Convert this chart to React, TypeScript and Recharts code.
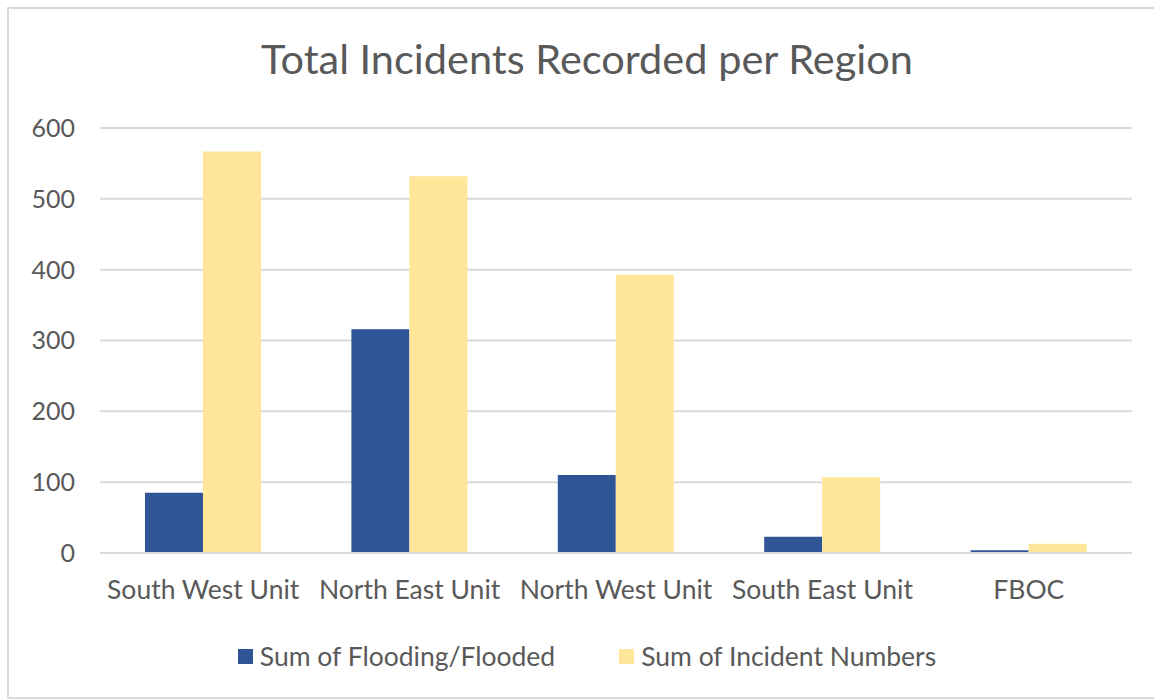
import React from "react";
import { BarChart, Bar, XAxis, YAxis, CartesianGrid } from "recharts";

// Incident totals by region
const regions = ["South West Unit", "North East Unit", "North West Unit", "South East Unit", "FBOC"];
const flooded = [85, 316, 110, 23, 4];
const incidents = [567, 532, 393, 107, 13];
const yTicks = [0, 100, 200, 300, 400, 500, 600];

const BLUE = "#2F5597";
const YELLOW = "#FFE699";
const TEXT = "#595959";
const GRID = "#D9D9D9";
const FONT = "Lato, 'Open Sans', sans-serif";

const series = [
  { key: "flooded", name: "Sum of Flooding/Flooded", color: BLUE },
  { key: "incidents", name: "Sum of Incident Numbers", color: YELLOW },
];

const rows = regions.map((region, i) => ({
  region,
  flooded: flooded[i],
  incidents: incidents[i],
}));

export default function App() {
  return (
    <div style={{ position: "absolute", left: 0, top: 0, width: 1154, height: 699, overflow: "hidden", background: "#fff" }}>
      <div style={{ position: "absolute", left: 7, top: 7, width: 1200, height: 688, border: "2px solid #D9D9D9" }} />
      <div style={{ position: "absolute", left: 0, top: 33, width: 1174, textAlign: "center", fontFamily: FONT, fontSize: 41.5, color: TEXT, whiteSpace: "nowrap" }}>
        Total Incidents Recorded per Region
      </div>
      <div style={{ position: "absolute", left: 0, top: 0 }}>
        <BarChart
          width={1154}
          height={699}
          data={rows}
          margin={{ top: 128, right: 22, bottom: 116, left: 0 }}
          barCategoryGap="21.8%"
          barGap={0}
        >
          <CartesianGrid vertical={false} stroke={GRID} strokeWidth={2} />
          <XAxis
            dataKey="region"
            height={30}
            axisLine={{ stroke: GRID, strokeWidth: 2 }}
            tickLine={false}
            tickSize={0}
            tickMargin={27}
            tick={{ fill: TEXT, fontSize: 26.5, fontFamily: FONT }}
            interval={0}
          />
          <YAxis
            width={100}
            domain={[0, 600]}
            ticks={yTicks}
            axisLine={false}
            tickLine={false}
            tickSize={0}
            tickMargin={25}
            tick={{ fill: TEXT, fontSize: 25, fontFamily: FONT }}
          />
          {series.map((s) => (
            <Bar key={s.key} dataKey={s.key} name={s.name} fill={s.color} isAnimationActive={false} />
          ))}
        </BarChart>
      </div>
      <div
        style={{
          position: "absolute",
          left: 0,
          top: 640,
          width: 1174,
          display: "flex",
          justifyContent: "center",
          alignItems: "center",
          gap: 64,
          fontFamily: FONT,
          fontSize: 26.5,
          color: TEXT,
          whiteSpace: "nowrap",
        }}
      >
        {series.map((s) => (
          <div key={s.key} style={{ display: "flex", alignItems: "center" }}>
            <span style={{ display: "inline-block", width: 15, height: 15, background: s.color, marginRight: 7 }} />
            <span>{s.name}</span>
          </div>
        ))}
      </div>
    </div>
  );
}
